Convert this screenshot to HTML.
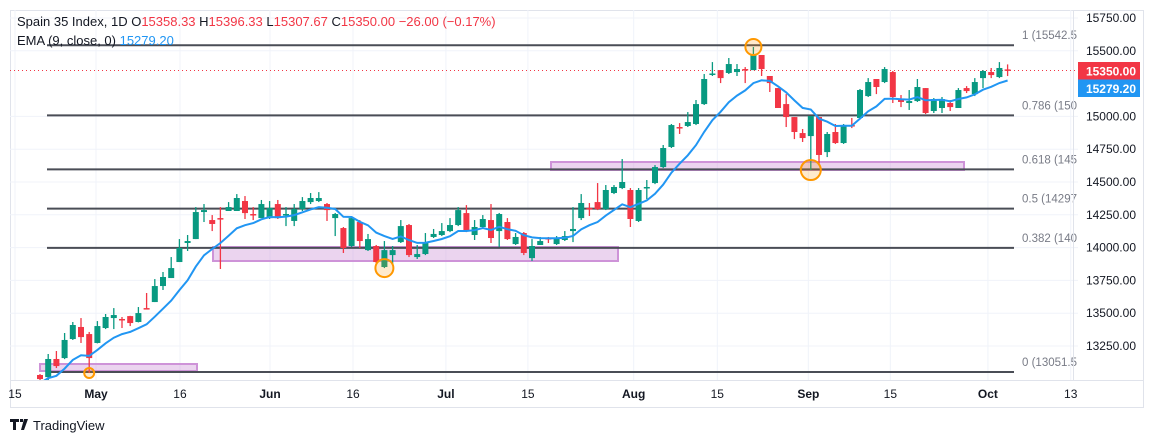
<!DOCTYPE html>
<html><head><meta charset="utf-8">
<style>
html,body{margin:0;padding:0;background:#fff;}
body{width:1154px;height:443px;overflow:hidden;font-family:"Liberation Sans",sans-serif;}
svg text{font-family:"Liberation Sans",sans-serif;}
</style></head>
<body>
<svg id="chart" width="1154" height="443" xmlns="http://www.w3.org/2000/svg">
  <rect x="10.5" y="10.5" width="1133" height="397" fill="#fff" stroke="#e0e3eb"/>
  <g id="grid"></g>
  <g id="zones"></g>
  <g id="fib"></g>
  <g id="candles"></g>
  <path id="ema" fill="none" stroke="#2196f3" stroke-width="2"/>
  <g id="circles"></g>
  <g id="axes"></g>
  <g>
    <text x="17" y="26" font-size="13" fill="#131722">Spain 35 Index, 1D  O<tspan fill="#f23645">15358.33</tspan>  H<tspan fill="#f23645">15396.33</tspan>  L<tspan fill="#f23645">15307.67</tspan>  C<tspan fill="#f23645">15350.00</tspan>  <tspan fill="#f23645">−26.00 (−0.17%)</tspan></text>
    <text x="17" y="45" font-size="13" fill="#131722">EMA (9, close, 0)  <tspan fill="#2196f3">15279.20</tspan></text>
  </g>
  <g>
    <path d="M10 419h9v3h-3v8h-3v-8h-3z M20 419h3v3h-3z M24 419h4l-4 11h-3z" fill="#131722"/>
    <text x="33" y="430" font-size="13" fill="#131722">TradingView</text>
  </g>
</svg>
<script>
const opens=[13029,13013,13151,13158,13303,13395,13341,13273,13387,13463,13456,13478,13433,13539,13585,13707,13768,13890,14035,14065,14271,14210,14225,14279,14279,14355,14256,14225,14225,14332,14252,14203,14294,14347,14355,14332,14225,14149,14012,14195,13981,14012,13852,13943,14042,14172,13928,13951,14081,14096,14126,14172,14263,14096,14157,14210,14126,14195,14027,14111,13920,14020,14073,14027,14058,14126,14225,14302,14347,14294,14416,14454,14439,14203,14454,14492,14614,14767,14919,14927,14942,15094,15323,15353,15331,15338,15361,15353,15468,15308,15216,15094,14995,14873,14850,14995,14728,14881,14797,14934,14988,15155,15285,15262,15338,15132,15102,15117,15216,15041,15064,15102,15064,15216,15170,15292,15338,15300,15358.33];
const highs=[13036,13189,13212,13349,13433,13463,13357,13440,13494,13539,13471,13480,13547,13654,13760,13814,13928,14065,14096,14309,14332,14248,14309,14347,14408,14393,14309,14363,14355,14363,14309,14332,14385,14416,14423,14340,14264,14157,14233,14210,14104,14020,14050,14012,14210,14180,14020,14111,14142,14187,14225,14309,14324,14210,14248,14332,14264,14225,14111,14119,14065,14081,14081,14088,14126,14309,14408,14340,14492,14477,14477,14675,14454,14454,14515,14629,14782,14942,14949,15033,15125,15323,15414,15353,15445,15399,15376,15529,15468,15308,15216,15170,14995,14904,15003,14995,14881,14942,14942,14988,15209,15292,15285,15376,15346,15163,15201,15285,15216,15140,15148,15125,15216,15231,15292,15353,15369,15414,15396.33];
const lows=[12983,12991,13082,13150,13296,13273,13044,13270,13379,13379,13387,13402,13430,13530,13585,13677,13768,13890,13974,14065,14195,14126,13837,14279,14279,14218,14210,14225,14218,14218,14164,14164,14279,14332,14347,14203,14088,13959,14004,13997,13974,13882,13844,13875,14035,13928,13913,13943,14073,14088,14118,14164,14118,14058,14149,14035,14004,14058,14020,13943,13898,14020,14035,14020,14050,14042,14210,14241,14286,14286,14408,14446,14157,14195,14370,14484,14606,14759,14866,14919,14934,15087,15308,15254,15323,15308,15254,15353,15308,15186,15064,14919,14827,14805,14591,14629,14690,14790,14790,14911,14980,15148,15170,15254,15102,15071,15049,15110,15018,15026,15026,15041,15064,15178,15155,15216,15292,15292,15307.67];
const closes=[12998,13151,13097,13296,13410,13318,13158,13402,13471,13486,13448,13425,13501,13532,13707,13776,13844,13997,14050,14271,14286,14180,14218,14309,14378,14263,14252,14332,14302,14225,14256,14294,14355,14378,14378,14286,14256,13997,14225,14050,14065,13890,13981,13981,14164,13943,13951,14042,14104,14126,14172,14286,14126,14157,14218,14073,14256,14065,14081,13959,14012,14050,14065,14073,14088,14142,14340,14298,14294,14439,14462,14500,14218,14439,14462,14614,14759,14934,14915,14957,15094,15285,15327,15292,15399,15361,15357,15475,15361,15254,15064,14995,14881,14835,15003,14706,14866,14797,14934,14930,15201,15262,15224,15361,15148,15110,15117,15224,15026,15132,15132,15071,15201,15193,15262,15346,15315,15369,15350];
const priceTicks=[15750,15500,15000,14750,14500,14250,14000,13750,13500,13250];
const timeTickIdx=[-3.05,6.83,17.07,28.05,38.17,49.5,59.5,72.4,82.6,93.7,103.7,115.6,125.7];
const timeTickLabels=["15","May","16","Jun","16","Jul","15","Aug","15","Sep","15","Oct","13"];
const fibLevels=[15542.5,15008,14596,14297,13998,13051.5];
const fibLabels=["1 (15542.5","0.786 (150","0.618 (145","0.5 (14297","0.382 (140","0 (13051.5"];
const lastPrice=15350, emaLast=15279.2;

const NS="http://www.w3.org/2000/svg";
const yS=p=>18+(15750-p)*0.1312;
const xS=i=>40+i*8.2;
function mk(tag,attrs,parent){const e=document.createElementNS(NS,tag);for(const k in attrs)e.setAttribute(k,attrs[k]);parent.appendChild(e);return e;}
const grid=document.getElementById('grid'),axes=document.getElementById('axes');
const PR=1078;
const defs=mk('defs',{},document.getElementById('chart'));
const cp=mk('clipPath',{id:'pane'},defs);mk('rect',{x:10,y:10,width:PR-10,height:370},cp);
priceTicks.forEach(p=>{
  const l=mk('line',{x1:10,x2:PR,y1:yS(p),y2:yS(p),stroke:'#f0f3fa'},grid);
  
  
  const t=mk('text',{x:1136,y:yS(p)+4,'font-size':12,fill:'#131722','text-anchor':'end'},axes);
  t.textContent=p.toFixed(2);
  
  
});
timeTickIdx.forEach((ix,k)=>{
  const x=xS(ix);
  const l=mk('line',{x1:x,x2:x,y1:10,y2:380,stroke:'#f0f3fa'},grid);
  
  
  const lab=timeTickLabels[k];
  const t=mk('text',{x:x,y:398,'font-size':12,fill:'#131722','text-anchor':'middle','font-weight':/^[A-Z]/.test(lab)?'bold':'normal'},axes);
  t.textContent=lab;
  
  
});
mk('line',{x1:10,x2:1143,y1:380.5,y2:380.5,stroke:'#e0e3eb'},axes);
mk('line',{x1:1073.5,x2:1073.5,y1:10,y2:380,stroke:'#e0e3eb'},axes);

const zones=document.getElementById('zones');
[[40,197,364,371],[213,618,247,261],[551,964,162,170]].forEach(z=>{
  const r=mk('rect',{x:z[0],y:z[2],width:z[1]-z[0],height:z[3]-z[2],fill:'rgba(206,147,216,0.4)',stroke:'#ce93d8','stroke-width':2},zones);
  
  
});

const fib=document.getElementById('fib');
fib.setAttribute('clip-path','url(#pane)');
fibLevels.forEach((v,k)=>{
  const l=mk('line',{x1:47,x2:1014,y1:yS(v),y2:yS(v),stroke:'#4a4d56','stroke-width':2},fib);
  
  
  const t=mk('text',{x:1022,y:yS(v)-6,'font-size':11.5,fill:'#787b86'},fib);
  t.textContent=fibLabels[k];
  
  
});

const lp=mk('line',{x1:10,x2:PR,y1:yS(lastPrice),y2:yS(lastPrice),stroke:'#f23645','stroke-dasharray':'1 3'},document.getElementById('candles'));



const cg=document.getElementById('candles');
opens.forEach((o,i)=>{
  const c=closes[i],up=c>=o,col=up?'#089981':'#f23645',x=xS(i);
  const g=mk('g',{},cg);
  
  
  mk('line',{x1:x,x2:x,y1:yS(highs[i]),y2:yS(lows[i]),stroke:col,'stroke-width':1.3},g);
  const top=yS(Math.max(o,c)),h=Math.max(1.5,Math.abs(yS(o)-yS(c)));
  mk('rect',{x:x-3,y:top,width:6,height:h,fill:col},g);
});

let e=12960,pts=[];const a=2/10;
closes.forEach((c,i)=>{e=c*a+e*(1-a);pts.push(xS(i).toFixed(1)+','+yS(e).toFixed(1));});
const emaP=document.getElementById('ema');
emaP.setAttribute('d','M'+pts.join('L'));
emaP.setAttribute('clip-path','url(#pane)');

const cgc=document.getElementById('circles');
[[6,13044,5],[42,13844,9],[87,15529,8],[94,14591,10]].forEach(q=>{
  const cc=mk('circle',{cx:xS(q[0]),cy:yS(q[1]),r:q[2],fill:'rgba(255,152,0,0.2)',stroke:'#ff9800','stroke-width':2},cgc);
  
  
});

[[lastPrice,'#f23645',71],[emaLast,'#2196f3',88.5]].forEach(q=>{
  const y=q[2];
  const r=mk('rect',{x:PR,y:y-9,width:62,height:17.5,fill:q[1]},axes);
  
  
  const t=mk('text',{x:1136,y:y+4.5,'font-size':12,'font-weight':'bold',fill:'#fff','text-anchor':'end'},axes);
  t.textContent=q[0].toFixed(2);
  
  
});
</script>
</body></html>
